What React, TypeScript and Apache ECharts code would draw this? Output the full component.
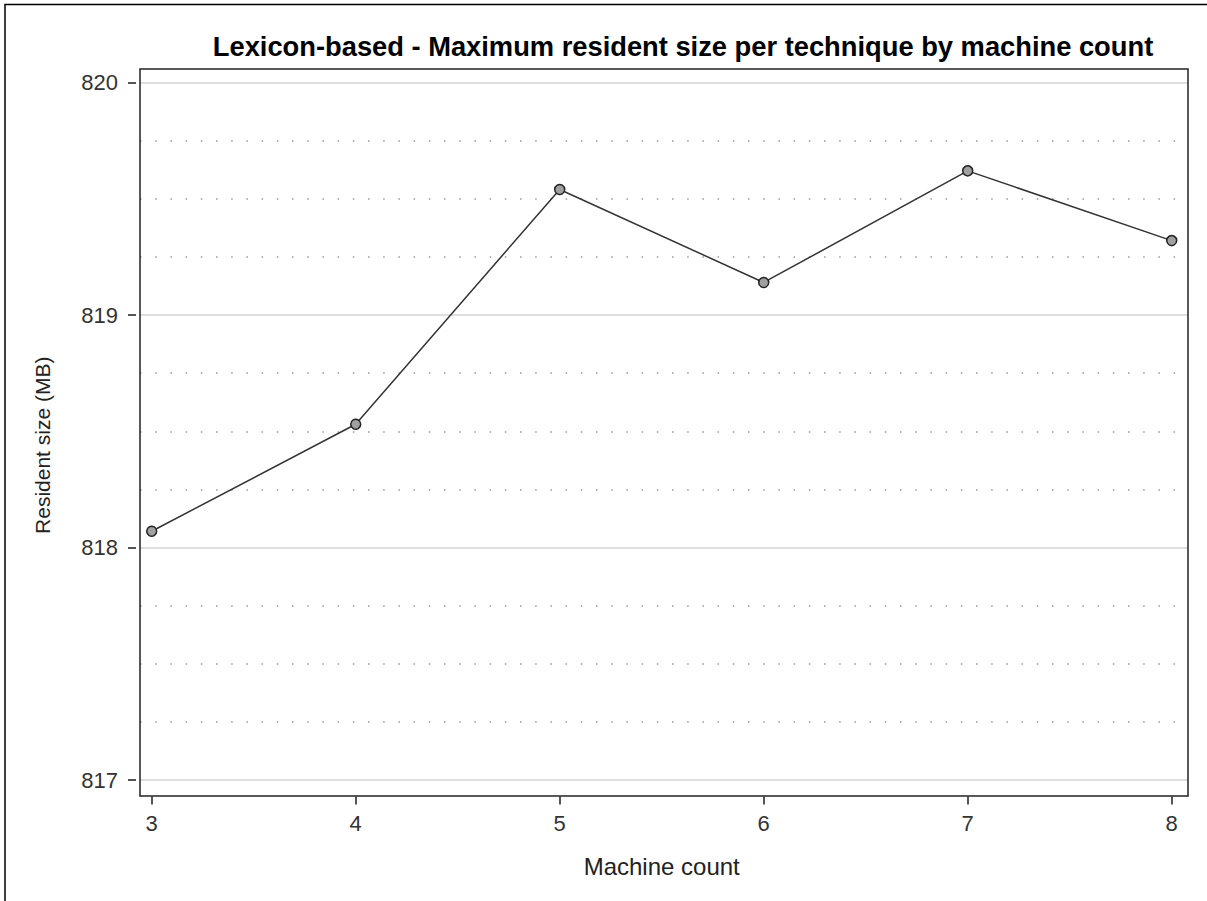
import React, { useEffect, useRef } from "react";
import * as echarts from "echarts";

const machineCounts = [3, 4, 5, 6, 7, 8];
const residentSizes = [818.07, 818.53, 819.54, 819.14, 819.62, 819.32];
const yMin = 817;
const yMax = 820;
const yInterval = 1;
const titleText = "Lexicon-based - Maximum resident size per technique by machine count";
const xName = "Machine count";
const yName = "Resident size (MB)";

const FONT = "'Liberation Sans', Arial, sans-serif";

export default function App() {
  const ref = useRef<HTMLDivElement>(null);
  useEffect(() => {
    if (!ref.current) return;
    const chart = echarts.init(ref.current, undefined, { renderer: "svg" });
    const gridTop = 82.5;
    const gridBottom = 121;
    chart.setOption({
      animation: false,
      backgroundColor: "#ffffff",
      textStyle: { fontFamily: FONT },
      title: {
        text: titleText,
        left: 678,
        textAlign: "center",
        top: 28,
        textStyle: { fontFamily: FONT, fontSize: 27.3, fontWeight: "bold", color: "#000" },
      },
      grid: [
        { left: 151.7, right: 35.3, top: gridTop, bottom: gridBottom, containLabel: false },
        { left: 140, right: 19, top: gridTop, bottom: gridBottom, containLabel: false },
      ],
      xAxis: [
        {
          type: "value",
          gridIndex: 0,
          min: 3,
          max: 8,
          interval: 1,
          offset: 16.5,
          axisLine: { show: false },
          axisTick: { show: true, length: 8, lineStyle: { color: "#555", width: 2 } },
          axisLabel: { fontSize: 22, color: "#333", margin: 16, fontFamily: FONT },
          splitLine: { show: false },
          name: xName,
          nameLocation: "middle",
          nameGap: 57.5,
          nameTextStyle: { fontSize: 24, color: "#222", fontFamily: FONT },
        },
        {
          type: "value",
          gridIndex: 1,
          min: 0,
          max: 1,
          show: false,
        },
      ],
      yAxis: [
        {
          type: "value",
          gridIndex: 0,
          min: yMin,
          max: yMax,
          interval: yInterval,
          offset: 15.7,
          axisLine: { show: false },
          axisTick: { show: true, length: 8, lineStyle: { color: "#555", width: 2 } },
          axisLabel: { fontSize: 22, color: "#333", margin: 18, fontFamily: FONT },
          splitLine: { show: false },
          name: yName,
          nameLocation: "middle",
          nameGap: 83,
          nameTextStyle: { fontSize: 21, color: "#222", fontFamily: FONT, padding: [0, 28, 0, 0] },
        },
        {
          type: "value",
          gridIndex: 1,
          min: yMin,
          max: yMax,
          interval: yInterval,
          axisLine: { show: false },
          axisTick: { show: false },
          axisLabel: { show: false },
          splitLine: { show: true, lineStyle: { color: "#dedede", width: 2 } },
          minorTick: { show: false, splitNumber: 4 },
          minorSplitLine: {
            show: true,
            lineStyle: { color: "#999", width: 1.5, type: [1.5, 13.7] },
          },
        },
      ],
      series: [
        {
          type: "line",
          xAxisIndex: 0,
          yAxisIndex: 0,
          data: machineCounts.map((m, i) => [m, residentSizes[i]]),
          symbol: "circle",
          symbolSize: 10,
          lineStyle: { color: "#333", width: 1.5 },
          itemStyle: { color: "#a0a0a0", borderColor: "#222", borderWidth: 1.5 },
          z: 5,
        },
      ],
      graphic: [
        {
          type: "rect",
          z: 100,
          shape: { x: 140, y: 69, width: 1048, height: 727 },
          style: { fill: "none", stroke: "#222", lineWidth: 1.5 },
          silent: true,
        },
        {
          type: "rect",
          z: 100,
          shape: { x: 5, y: 4.5, width: 1400, height: 1100 },
          style: { fill: "none", stroke: "#000", lineWidth: 1.5 },
          silent: true,
        },
      ],
    });
    return () => chart.dispose();
  }, []);
  return (
    <div
      ref={ref}
      style={{ position: "absolute", left: 0, top: 0, width: 1207, height: 901 }}
    />
  );
}
